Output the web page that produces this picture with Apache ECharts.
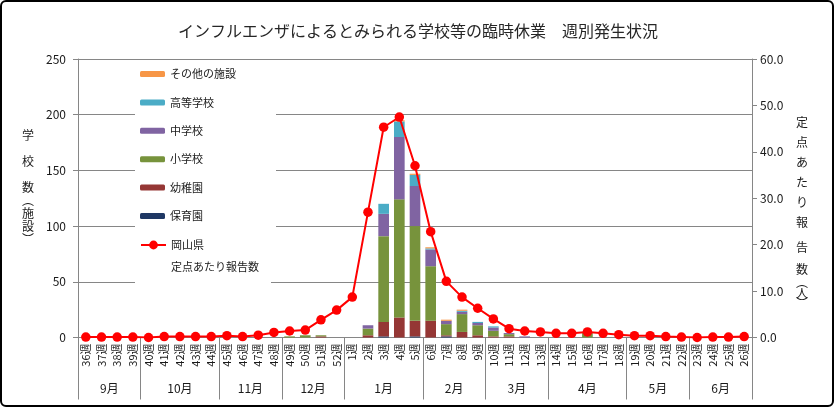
<!DOCTYPE html>
<html><head><meta charset="utf-8">
<script src="https://cdn.jsdelivr.net/npm/echarts@6/dist/echarts.min.js"></script>
<style>
html,body{margin:0;padding:0;background:#fff;}
#wrap{position:relative;width:834px;height:407px;}
#chart{width:834px;height:407px;}
#frame{position:absolute;left:0;top:0;width:834px;height:407px;box-sizing:border-box;border:2px solid #000;border-radius:6px;pointer-events:none;}
</style></head><body>
<div id="wrap"><div id="chart"></div><div id="frame"></div></div>
<script>
const weeks = ['36週','37週','38週','39週','40週','41週','42週','43週','44週','45週','46週','47週','48週','49週','50週','51週','52週',
  '1週','2週','3週','4週','5週','6週','7週','8週','9週','10週','11週','12週','13週','14週','15週','16週','17週','18週','19週','20週','21週','22週','23週','24週','25週','26週'];
const months = ['9月','10月','11月','12月','1月','2月','3月','4月','5月','6月'];
const monthWeekCounts = [4,5,4,4,5,4,4,5,4,4];

const hoikuen   = [0,0,0,0,0,0,0,0,0,0,0,0,0,0,0,0,0, 0,0,1,0,1,0,1,0,0,0,0,0,0,0,0,0,0,0,0,0,0,0,0,0,0,0];
const youchien  = [0,0,0,0,0,0,0,0,0,0,0,0,0,0,0,1,0, 0,2,13,18,14,15,1,5,2,1,1,0,0,0,0,0,0,0,0,0,0,0,0,0,0,0];
const shogakko  = [0,0,0,0,0,0,0,0,0,0,0,0,0,1,2,1,0, 0,6,77,106,85,49,10,16,9,5,2,0,0,0,0,4,0,0,0,0,0,0,0,0,0,0];
const chugakko  = [0,0,0,0,0,0,0,0,0,0,0,0,0,0,0,0,0, 0,3,20,56,36,15,3,2,2,3,1,1,0,0,0,0,0,0,0,0,0,0,0,0,0,0];
const kotogakko = [0,0,0,0,0,0,0,0,0,0,0,0,0,0,0,0,0, 0,0,9,14,10,1,0,1,1,1,0,0,0,0,0,0,0,0,0,0,0,0,0,0,0,0];
const sonota    = [0,0,0,0,0,0,0,0,0,0,0,0,0,0,0,0,0, 0,0,0,1,1,1,1,1,0,0,0,0,0,0,0,0,0,0,0,0,0,0,0,0,0,0];
const teiten    = [0.1,0.1,0.1,0.1,0.0,0.2,0.2,0.2,0.2,0.4,0.2,0.5,1.1,1.4,1.6,3.8,5.9,
  8.7,27.0,45.3,47.5,37.0,22.8,12.1,8.7,6.3,4.0,1.9,1.4,1.2,0.9,0.9,1.2,0.9,0.6,0.4,0.4,0.2,0.1,0.0,0.1,0.1,0.2];
const leftTicks = [0,50,100,150,200,250];
const rightTicks = [0,10,20,30,40,50,60];

// month boundaries and centres (in week units)
const bounds = [0]; const centers = []; const centerLabel = {};
monthWeekCounts.forEach((c,i)=>{ const s = bounds[bounds.length-1]; bounds.push(s+c); const m = s + c/2; centers.push(m); centerLabel[m] = months[i]; });

const FF = '"Noto Sans CJK JP", "Noto Sans", sans-serif';
const GRID = '#868686';
const TXT = '#1a1a1a';
function rs(lh){ return {lineHeight:lh, fontSize:12, color:TXT, fontFamily:FF}; }

const chart = echarts.init(document.getElementById('chart'));
function bar(name, data, color){
  return {name, type:'bar', stack:'s', data, barCategoryGap:'32%', itemStyle:{color}, xAxisIndex:0, yAxisIndex:0};
}
chart.setOption({
  animation:false,
  textStyle:{fontFamily:FF},
  title:{text:'インフルエンザによるとみられる学校等の臨時休業　週別発生状況', left:173, top:18,
    textStyle:{fontSize:16, fontWeight:'normal', color:'#262626', fontFamily:FF}},
  grid:{left:78, right:82, top:59, bottom:69.5, containLabel:false},
  legend:[{
    orient:'vertical', left:135, top:62, padding:[5,40,5,5], itemWidth:25, itemHeight:6, itemGap:14.4,
    backgroundColor:'#fff', z:5, selectedMode:false,
    textStyle:{fontSize:11, lineHeight:14, color:TXT, fontFamily:FF},
    data:['その他の施設','高等学校','中学校','小学校','幼稚園','保育園']
  },{
    orient:'vertical', left:135, top:212, padding:[0,12,5,5], itemWidth:25, itemHeight:11,
    backgroundColor:'#fff', z:4, selectedMode:false,
    textStyle:{fontSize:11, lineHeight:22, color:TXT, fontFamily:FF},
    formatter: n => ' \n' + n + '\n定点あたり報告数',
    data:['岡山県']
  }],
  xAxis:[{
    type:'category', data:weeks, position:'bottom', boundaryGap:true,
    axisLine:{onZero:false, lineStyle:{color:GRID, width:1}},
    axisTick:{length:35, lineStyle:{color:GRID}},
    axisLabel:{rotate:90, interval:0, margin:6, fontSize:11, color:TXT, fontFamily:FF}
  },{
    type:'value', min:0, max:bounds[bounds.length-1], position:'bottom',
    axisLine:{show:false, onZero:false},
    splitLine:{show:false},
    axisTick:{show:true, customValues:bounds, length:62, lineStyle:{color:GRID}},
    axisLabel:{customValues:centers, margin:45, fontSize:12, color:TXT, fontFamily:FF,
      formatter: v => centerLabel[v] || ''}
  }],
  yAxis:[{
    type:'value', min:leftTicks[0], max:leftTicks[leftTicks.length-1], interval:50, position:'left',
    axisLine:{show:true, onZero:false, lineStyle:{color:GRID}},
    axisTick:{show:true, length:5, lineStyle:{color:GRID}},
    splitLine:{show:true, lineStyle:{color:GRID, width:1}},
    axisLabel:{margin:12, fontSize:12, color:TXT, fontFamily:FF},
    name:'{a|学}\n{a| }\n{a|校}\n{a| }\n{a|数}\n{a|︵}\n{a|施}\n{a|設}\n{a|︶}\n{g| }', nameLocation:'middle', nameRotate:0, nameGap:44,
    nameTextStyle:{fontSize:12, color:TXT, fontFamily:FF, rich:{a:rs(13), g:rs(22)}}
  },{
    type:'value', min:rightTicks[0], max:rightTicks[rightTicks.length-1], interval:10, position:'right',
    axisLine:{show:true, onZero:false, lineStyle:{color:GRID}},
    axisTick:{show:true, length:5, lineStyle:{color:GRID}},
    splitLine:{show:false},
    axisLabel:{margin:8, fontSize:12, color:TXT, fontFamily:FF, formatter: v => v.toFixed(1)},
    name:'{h| }\n{a|定}\n{a|点}\n{a|あ}\n{a|た}\n{a|り}\n{a|報}\n{b|告}\n{c|数}\n{d|︵}\n{e|人}\n{e|︶}',
    nameLocation:'middle', nameRotate:0, nameGap:44,
    nameTextStyle:{fontSize:12, color:TXT, fontFamily:FF,
      rich:{h:rs(24), a:rs(20), b:rs(30), c:rs(14), d:rs(12), e:rs(10)}}
  }],
  series:[
    bar('保育園', hoikuen, '#1F3864'),
    bar('幼稚園', youchien, '#953735'),
    bar('小学校', shogakko, '#77933C'),
    bar('中学校', chugakko, '#8064A2'),
    bar('高等学校', kotogakko, '#4BACC6'),
    bar('その他の施設', sonota, '#F79646'),
    {name:'岡山県', type:'line', data:teiten, xAxisIndex:0, yAxisIndex:1, z:5,
      symbol:'circle', symbolSize:9.5, showAllSymbol:true,
      lineStyle:{color:'#FF0000', width:2}, itemStyle:{color:'#FF0000'}}
  ]
});
</script>
</body></html>
